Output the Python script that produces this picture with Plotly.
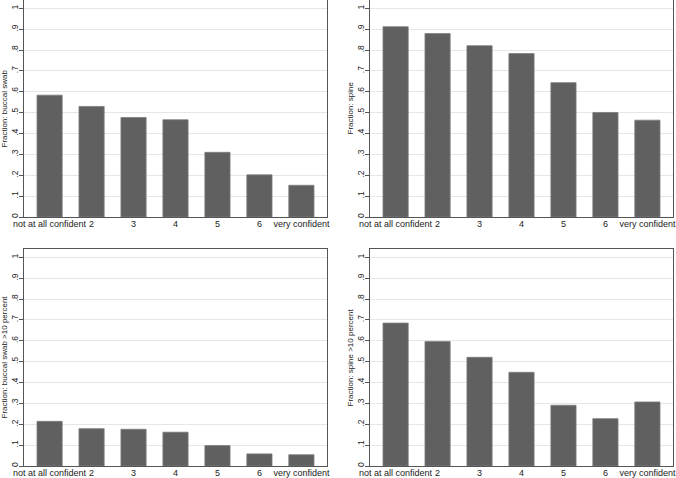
import plotly.graph_objects as go

categories = ["not at all confident", "2", "3", "4", "5", "6", "very confident"]
buccal = [0.584, 0.530, 0.477, 0.466, 0.310, 0.202, 0.152]
spine = [0.912, 0.879, 0.821, 0.783, 0.644, 0.501, 0.464]
buccal10 = [0.214, 0.179, 0.176, 0.162, 0.098, 0.058, 0.054]
spine10 = [0.685, 0.597, 0.521, 0.449, 0.291, 0.227, 0.307]
ytick_vals = [0, 0.1, 0.2, 0.3, 0.4, 0.5, 0.6, 0.7, 0.8, 0.9, 1.0]
ytick_text = ["0", ".1", ".2", ".3", ".4", ".5", ".6", ".7", ".8", ".9", "1"]
titles = ["Fraction: buccal swab", "Fraction: spine",
          "Fraction: buccal swab >10 percent", "Fraction: spine >10 percent"]
series = [buccal, spine, buccal10, spine10]

W, H = 676, 478
xdoms = [[24 / W, 327 / W], [370 / W, 673 / W]]
ydoms = [[1 - 217 / H, 1.0], [1 - 466 / H, 1 - 249 / H]]

FONT = "Liberation Sans, Arial, sans-serif"
TXT = "#222222"

fig = go.Figure()
xpos = list(range(len(categories)))
annots = []
for i, (vals, title) in enumerate(zip(series, titles)):
    r, c = divmod(i, 2)
    n = "" if i == 0 else str(i + 1)
    fig.add_trace(go.Bar(
        x=xpos, y=vals, width=0.6,
        marker=dict(color="#606060", line=dict(color="#7c7c7c", width=0.8)),
        xaxis="x" + n, yaxis="y" + n, showlegend=False,
    ))
    fig.layout["xaxis" + n] = dict(
        domain=xdoms[c], anchor="y" + n, range=[-0.61, 6.61],
        tickmode="array", tickvals=xpos, ticktext=categories,
        ticks="", showgrid=False, zeroline=False, ticklabelstandoff=-2,
        showline=True, linecolor="#555555", linewidth=1, mirror=True,
        tickfont=dict(family=FONT, size=9, color=TXT), fixedrange=True,
    )
    fig.layout["yaxis" + n] = dict(
        domain=ydoms[r], anchor="x" + n, range=[0, 1.04],
        tickmode="array", tickvals=ytick_vals, ticktext=ytick_text,
        tickangle=-90, ticks="outside", ticklen=4, tickcolor="#555555",
        ticklabelstandoff=-2,
        showgrid=True, gridcolor="#e6e6e6", gridwidth=1, zeroline=False,
        showline=True, linecolor="#555555", linewidth=1, mirror=True,
        tickfont=dict(family=FONT, size=8.5, color=TXT),
        fixedrange=True,
    )
    annots.append(dict(
        text=title, xref="paper", yref="paper",
        x=(xdoms[c][0] * W - 20) / W, y=sum(ydoms[r]) / 2,
        xanchor="center", yanchor="middle", textangle=-90, showarrow=False,
        font=dict(family=FONT, size=8, color=TXT),
    ))

fig.update_layout(
    width=W, height=H, margin=dict(l=0, r=0, t=0, b=0, autoexpand=False),
    paper_bgcolor="white", plot_bgcolor="white", bargap=0.4,
    annotations=annots,
)
fig.write_html("out.html")
